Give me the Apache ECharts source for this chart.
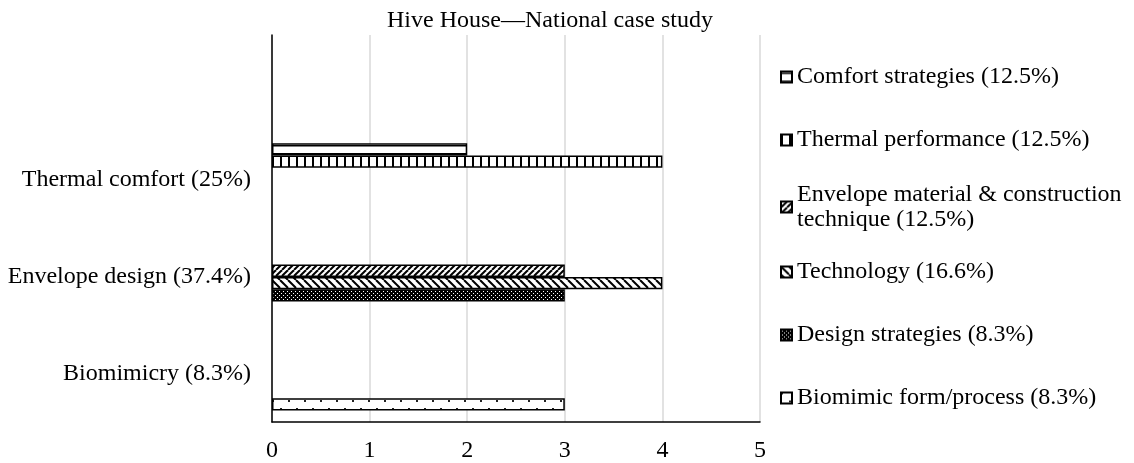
<!DOCTYPE html>
<html>
<head>
<meta charset="utf-8">
<script src="https://cdn.jsdelivr.net/npm/echarts@6/dist/echarts.min.js"></script>
<style>html,body{margin:0;padding:0;background:#fff;}#chart{width:1134px;height:463px;}</style>
</head>
<body>
<div id="chart"></div>
<script>
// ---- data ----
const chartTitle = 'Hive House\u2014National case study';
const categories = ['Biomimicry (8.3%)', 'Envelope design (37.4%)', 'Thermal comfort (25%)', ''];
const seriesNames = [
  'Comfort strategies (12.5%)',
  'Thermal performance (12.5%)',
  'Envelope material & construction technique (12.5%)',
  'Technology (16.6%)',
  'Design strategies (8.3%)',
  'Biomimic form/process (8.3%)'
];
const comfortStrategies   = [null, null, 2, null];
const thermalPerformance  = [null, null, 4, null];
const envelopeMaterial    = [null, 3, null, null];
const technology          = [null, 4, null, null];
const designStrategies    = [null, 3, null, null];
const biomimicForm        = [3, null, null, null];
const seriesValues = [comfortStrategies, thermalPerformance, envelopeMaterial, technology, designStrategies, biomimicForm];
const valueMin = 0, valueMax = 5, valueInterval = 1;

// ---- patterns ----
function tile(w, h, draw) {
  const c = document.createElement('canvas');
  c.width = w; c.height = h;
  const ctx = c.getContext('2d');
  ctx.fillStyle = '#fff'; ctx.fillRect(0, 0, w, h);
  ctx.fillStyle = '#000'; ctx.strokeStyle = '#000';
  draw(ctx, w, h);
  return { image: c, repeat: 'repeat' };
}
const patterns = [
  tile(8, 8, (ctx) => { ctx.fillRect(0, 1, 8, 1.5); }),
  tile(8, 8, (ctx) => { ctx.fillRect(0, 0, 2, 8); }),
  tile(6, 6, (ctx, w, h) => {
    ctx.lineWidth = 2;
    for (let k = -1; k <= 1; k++) { ctx.beginPath(); ctx.moveTo(k * w, h); ctx.lineTo(k * w + w, 0); ctx.stroke(); }
  }),
  tile(8, 8, (ctx, w, h) => {
    ctx.lineWidth = 2;
    for (let k = -1; k <= 1; k++) { ctx.beginPath(); ctx.moveTo(k * w, 0); ctx.lineTo(k * w + w, h); ctx.stroke(); }
  }),
  tile(4, 4, (ctx) => { ctx.fillRect(0, 0, 4, 4); ctx.fillStyle = '#fff'; ctx.fillRect(1, 1, 1, 1); ctx.fillRect(3, 3, 1, 1); }),
  tile(16, 16, (ctx) => { ctx.fillStyle = '#222'; ctx.fillRect(0, 0, 2, 2); ctx.fillRect(8, 8, 2, 2); })
];

const FONT = '"Liberation Serif", "Times New Roman", serif';
const legendCenters = [77, 140, 207, 272, 335, 398];

const legends = seriesNames.map((n, i) => {
  const multi = n.indexOf('construction technique') >= 0;
  return {
    data: [n],
    orient: 'vertical',
    left: 780,
    top: legendCenters[i] - (multi ? 37.5 : 12.5),
    padding: 0,
    itemWidth: 11,
    itemHeight: 11,
    itemGap: 5,
    icon: 'rect',
    selectedMode: false,
    formatter: (name) => name.replace('construction ', 'construction\n'),
    textStyle: {
      fontFamily: FONT, fontSize: 24, color: '#000', lineHeight: 25,
      padding: multi ? [25, 0, 0, 0] : 0
    }
  };
});

const chart = echarts.init(document.getElementById('chart'), null, { renderer: 'canvas' });
chart.setOption({
  animation: false,
  backgroundColor: '#fff',
  title: {
    text: chartTitle,
    left: 387, top: 9, padding: 0,
    textStyle: { fontFamily: FONT, fontSize: 24, fontWeight: 'normal', color: '#000', lineHeight: 24 }
  },
  legend: legends,
  grid: { left: 272, right: 374, top: 35, bottom: 40, containLabel: false },
  xAxis: {
    type: 'value', min: valueMin, max: valueMax, interval: valueInterval,
    axisLine: { show: true, onZero: false, lineStyle: { color: '#000', width: 1.5 } },
    axisTick: { show: false },
    splitLine: { show: true, lineStyle: { color: '#d9d9d9', width: 1.5 } },
    axisLabel: { fontFamily: FONT, fontSize: 24, color: '#000', margin: 17 }
  },
  yAxis: {
    type: 'category', data: categories,
    axisLine: { show: true, lineStyle: { color: '#000', width: 1.5 } },
    axisTick: { show: false },
    splitLine: { show: false },
    axisLabel: { fontFamily: FONT, fontSize: 24, color: '#000', margin: 21, padding: [6, 0, 0, 0] }
  },
  series: seriesNames.map((n, i) => ({
    name: n,
    type: 'bar',
    data: seriesValues[i],
    barGap: '0%',
    barCategoryGap: '24%',
    itemStyle: { color: patterns[i], borderColor: '#000', borderWidth: 1.5 }
  }))
});
</script>
</body>
</html>
